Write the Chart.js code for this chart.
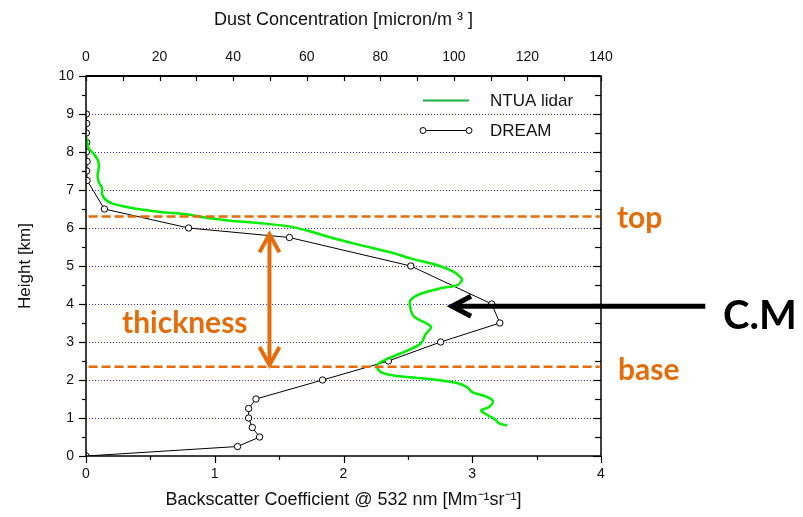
<!DOCTYPE html>
<html>
<head>
<meta charset="utf-8">
<script src="https://cdn.jsdelivr.net/npm/chart.js@4.4.1/dist/chart.umd.min.js"></script>
<style>
  html, body { margin: 0; padding: 0; background: #ffffff; }
  canvas { display: block; }
</style>
</head>
<body>
<canvas id="c" width="803" height="517"></canvas>
<script>
// ---- Data ----
// NTUA lidar: backscatter coefficient [Mm-1 sr-1] vs height [km]
const lidarHeight = [8.40, 8.25, 8.10, 7.95, 7.80, 7.65, 7.50, 7.35, 7.20, 7.05, 6.90, 6.75, 6.65, 6.58, 6.50, 6.42, 6.36, 6.29, 6.20, 6.12, 6.03, 5.90, 5.75, 5.55, 5.35, 5.20, 5.02, 4.84, 4.70, 4.62, 4.49, 4.41, 4.27, 4.10, 3.88, 3.66, 3.48, 3.38, 3.22, 2.96, 2.78, 2.60, 2.43, 2.34, 2.21, 2.12, 2.03, 1.92, 1.81, 1.68, 1.55, 1.44, 1.29, 1.20, 1.13, 0.98, 0.86, 0.80];
const lidarBackscatter = [0.00, 0.01, 0.02, 0.06, 0.09, 0.10, 0.095, 0.09, 0.10, 0.125, 0.125, 0.15, 0.20, 0.28, 0.40, 0.58, 0.78, 0.90, 1.10, 1.38, 1.60, 1.75, 1.90, 2.13, 2.38, 2.52, 2.73, 2.86, 2.91, 2.92, 2.88, 2.75, 2.60, 2.52, 2.52, 2.55, 2.65, 2.68, 2.64, 2.60, 2.50, 2.37, 2.27, 2.26, 2.29, 2.39, 2.65, 2.88, 2.96, 3.00, 3.12, 3.16, 3.13, 3.07, 3.09, 3.17, 3.21, 3.27];
// DREAM: dust concentration [micron/m3] vs height [km]
const dreamHeight = [0, 0.25, 0.5, 0.75, 1.0, 1.25, 1.5, 2.0, 2.5, 3.0, 3.5, 4.0, 5.0, 5.75, 6.0, 6.5, 7.25, 7.5, 7.75, 8.0, 8.25, 8.5, 8.75, 9.0];
const dreamConc = [0, 41.2, 47.2, 45.2, 44.2, 44.2, 46.2, 64.3, 82.2, 96.4, 112.5, 110.3, 88.3, 55.3, 27.9, 5.0, 0.3, 0.2, 0.3, 0.1, 0.2, 0.1, 0.2, 0.1];
// Layer boundaries [km]
const layerTop = 6.3;
const layerBase = 2.35;
const centerOfMass = 3.94;
const gridLevels = [1, 2, 3, 4, 5, 6, 7, 8, 9];
// Axis ranges / labels
const xRange = [0, 4];
const x2Range = [0, 140];
const yRange = [0, 10];
const seriesNames = ['NTUA lidar', 'DREAM'];
const titleBottom = 'Backscatter Coefficient @ 532 nm [Mm\u207B\u00B9sr\u207B\u00B9]';
const titleTop = 'Dust Concentration [micron/m \u00B3 ]';
const titleLeft = 'Height [km]';

const lidarPts = lidarHeight.map((h, i) => ({ x: lidarBackscatter[i], y: h }));
const dreamPts = dreamHeight.map((h, i) => ({ x: dreamConc[i], y: h }));

const ORANGE = '#E46C0A';
const GREEN = '#00EE00';
const AXFONT = 'Liberation Sans, Arial, sans-serif';
const ANFONT = 'Lato, "Open Sans", sans-serif';

const annot = {
  id: 'annot',
  beforeDatasetsDraw(chart) {
    const { ctx, chartArea: a, scales: { y } } = chart;
    ctx.save();
    ctx.strokeStyle = '#2a2aff';
    ctx.lineWidth = 1;
    ctx.setLineDash([1, 2]);
    gridLevels.forEach(v => {
      const py = Math.round(y.getPixelForValue(v)) + 0.5;
      ctx.beginPath(); ctx.moveTo(a.left, py); ctx.lineTo(a.right, py); ctx.stroke();
    });
    ctx.restore();
  },
  afterDatasetsDraw(chart) {
    const { ctx, chartArea: a, scales: { x, x2, y } } = chart;
    ctx.save();
    // layer boundaries
    ctx.strokeStyle = ORANGE; ctx.lineWidth = 2.5; ctx.setLineDash([9, 4]);
    [layerTop, layerBase].forEach(v => {
      const py = y.getPixelForValue(v);
      ctx.beginPath(); ctx.moveTo(x.getPixelForValue(0.02), py); ctx.lineTo(x.getPixelForValue(3.99), py); ctx.stroke();
    });
    ctx.setLineDash([]);

    // frame
    ctx.strokeStyle = '#000'; ctx.lineWidth = 1.5;
    ctx.strokeRect(a.left, a.top, a.right - a.left, a.bottom - a.top);
    ctx.lineWidth = 2;
    ctx.beginPath(); ctx.moveTo(a.left, a.top); ctx.lineTo(a.right, a.top); ctx.stroke();
    ctx.lineWidth = 1.2;
    // left & right ticks
    for (let v = yRange[0]; v <= yRange[1] + 1e-9; v += 0.5) {
      const py = Math.round(y.getPixelForValue(v)) + 0.5;
      const major = Math.abs(v - Math.round(v)) < 1e-9;
      const L = major ? 7 : 4;
      ctx.beginPath(); ctx.moveTo(a.left - L, py); ctx.lineTo(a.left, py); ctx.stroke();
      ctx.beginPath(); ctx.moveTo(a.right, py); ctx.lineTo(a.right - (major ? 8 : 6), py); ctx.stroke();
    }
    // bottom ticks
    for (let v = xRange[0]; v <= xRange[1] + 1e-9; v += 0.5) {
      const px = Math.round(x.getPixelForValue(v)) + 0.5;
      const major = Math.abs(v - Math.round(v)) < 1e-9;
      const L = major ? 7 : 4;
      ctx.beginPath(); ctx.moveTo(px, a.bottom); ctx.lineTo(px, a.bottom + L); ctx.stroke();
    }
    // top ticks (inward)
    for (let v = x2Range[0]; v <= x2Range[1] + 1e-9; v += 10) {
      const px = Math.round(x2.getPixelForValue(v)) + 0.5;
      ctx.beginPath(); ctx.moveTo(px, a.top); ctx.lineTo(px, a.top + 5); ctx.stroke();
    }

    // legend
    const lx0 = 423, lx1 = 469;
    ctx.strokeStyle = '#19b040'; ctx.lineWidth = 2;
    ctx.beginPath(); ctx.moveTo(lx0, 100.5); ctx.lineTo(lx1, 100.5); ctx.stroke();
    ctx.strokeStyle = '#000'; ctx.lineWidth = 1;
    ctx.beginPath(); ctx.moveTo(lx0, 130.5); ctx.lineTo(lx1, 130.5); ctx.stroke();
    [lx0, lx1].forEach(px => {
      ctx.beginPath(); ctx.arc(px, 130.5, 3, 0, Math.PI * 2);
      ctx.fillStyle = '#fff'; ctx.fill(); ctx.stroke();
    });
    ctx.fillStyle = '#111'; ctx.font = '17px ' + AXFONT;
    ctx.textAlign = 'left'; ctx.textBaseline = 'middle';
    ctx.fillText(seriesNames[0], 490, 101);
    ctx.fillText(seriesNames[1], 490, 131);

    // thickness double arrow
    const ax = x.getPixelForValue(1.425);
    const ay0 = y.getPixelForValue(5.86), ay1 = y.getPixelForValue(2.37);
    ctx.strokeStyle = ORANGE; ctx.lineWidth = 4; ctx.lineCap = 'butt'; ctx.lineJoin = 'miter';
    ctx.beginPath(); ctx.moveTo(ax, ay0 + 2); ctx.lineTo(ax, ay1 - 2); ctx.stroke();
    ctx.beginPath(); ctx.moveTo(ax - 10, ay0 + 19); ctx.lineTo(ax, ay0 + 1); ctx.lineTo(ax + 10, ay0 + 19); ctx.stroke();
    ctx.beginPath(); ctx.moveTo(ax - 10, ay1 - 19); ctx.lineTo(ax, ay1 - 1); ctx.lineTo(ax + 10, ay1 - 19); ctx.stroke();

    // C.M arrow
    const cy = y.getPixelForValue(centerOfMass);
    const tipX = x.getPixelForValue(2.835), tailX = x.getPixelForValue(4.81);
    ctx.strokeStyle = '#000'; ctx.lineWidth = 5;
    ctx.beginPath(); ctx.moveTo(tailX, cy); ctx.lineTo(tipX + 3, cy); ctx.stroke();
    ctx.beginPath(); ctx.moveTo(tipX + 20, cy - 10); ctx.lineTo(tipX + 1, cy); ctx.lineTo(tipX + 20, cy + 10); ctx.stroke();

    // texts
    ctx.fillStyle = ORANGE; ctx.font = 'bold 30px ' + ANFONT;
    ctx.textBaseline = 'alphabetic'; ctx.textAlign = 'left';
    ctx.fillText('top', 617, y.getPixelForValue(layerTop) + 11);
    ctx.fillText('base', 618, y.getPixelForValue(layerBase) + 13);
    ctx.fillText('thickness', 122, 333);
    ctx.fillStyle = '#000'; ctx.font = 'bold 40px ' + ANFONT;
    ctx.fillText('C.M', 723, cy + 23);
    ctx.restore();
  }
};

new Chart(document.getElementById('c'), {
  type: 'scatter',
  data: {
    datasets: [
      { label: seriesNames[0], data: lidarPts, xAxisID: 'x', yAxisID: 'y', showLine: true,
        borderColor: GREEN, borderWidth: 2.5, pointRadius: 0, tension: 0.3, fill: false },
      { label: seriesNames[1], data: dreamPts, xAxisID: 'x2', yAxisID: 'y', showLine: true,
        borderColor: '#000', borderWidth: 1, pointRadius: 3.2, pointBackgroundColor: '#fff',
        pointBorderColor: '#000', pointBorderWidth: 1, tension: 0 }
    ]
  },
  options: {
    responsive: false, animation: false, devicePixelRatio: 1,
    layout: { padding: { left: 0, top: 0, bottom: 0, right: 202 } },
    plugins: { legend: { display: false }, tooltip: { enabled: false } },
    scales: {
      x: {
        type: 'linear', position: 'bottom', min: xRange[0], max: xRange[1],
        grid: { display: false, drawTicks: false }, border: { display: false },
        ticks: { stepSize: 0.5, autoSkip: false, maxRotation: 0, padding: 10, color: '#111',
          font: { family: AXFONT, size: 14 },
          callback: v => Number.isInteger(v) ? String(v) : '' },
        title: { display: true, text: titleBottom, color: '#111', font: { family: AXFONT, size: 18 },
          padding: { top: 0, bottom: 6 } },
        afterFit(s) { s.height = 61; }
      },
      x2: {
        type: 'linear', position: 'top', min: x2Range[0], max: x2Range[1],
        grid: { display: false, drawTicks: false }, border: { display: false },
        ticks: { stepSize: 10, autoSkip: false, maxRotation: 0, padding: 10, color: '#111',
          font: { family: AXFONT, size: 14 },
          callback: v => (v % 20 === 0) ? String(v) : '' },
        title: { display: true, text: titleTop, color: '#111', font: { family: AXFONT, size: 18 },
          padding: { top: 9, bottom: 0 } },
        afterFit(s) { s.height = 76; }
      },
      y: {
        type: 'linear', position: 'left', min: yRange[0], max: yRange[1],
        grid: { display: false, drawTicks: false }, border: { display: false },
        ticks: { stepSize: 0.5, autoSkip: false, padding: 12, color: '#111',
          font: { family: AXFONT, size: 14 },
          callback: v => Number.isInteger(v) ? String(v) : '' },
        title: { display: true, text: titleLeft, color: '#111', font: { family: AXFONT, size: 17 },
          padding: { top: 15, bottom: 0 } },
        afterFit(s) { s.width = 86; }
      }
    }
  },
  plugins: [annot]
});
</script>
</body>
</html>
